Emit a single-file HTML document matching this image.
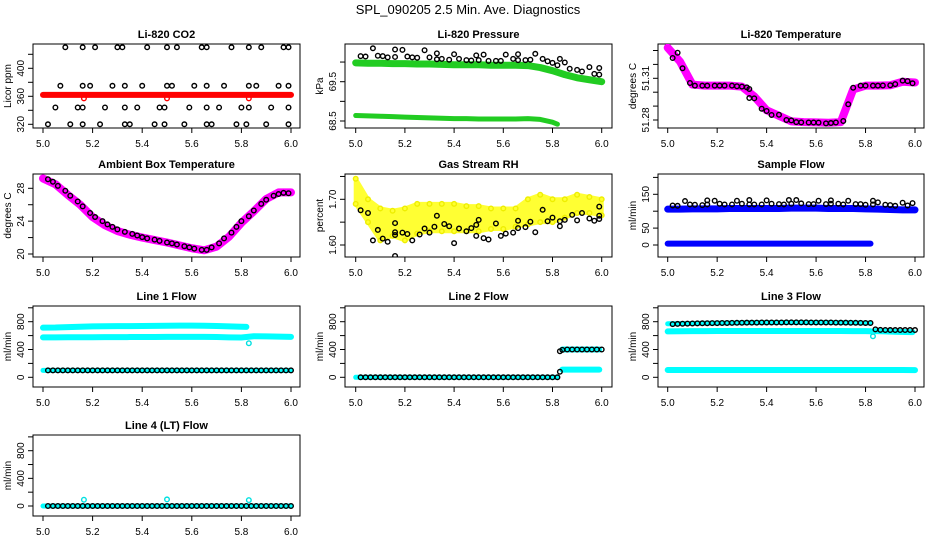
<!DOCTYPE html>
<html><head><meta charset="utf-8">
<style>
html,body{margin:0;padding:0;background:#fff;}
svg{display:block;font-family:"Liberation Sans",sans-serif;}
</style></head>
<body>
<svg id="chart" width="936" height="540" viewBox="0 0 936 540" xmlns="http://www.w3.org/2000/svg">
<text x="468" y="14" text-anchor="middle" font-size="13">SPL_090205  2.5 Min. Ave. Diagnostics</text>
</svg>
<script>
// ---- data ----
const xTicks = [5.0,5.2,5.4,5.6,5.8,6.0];
const xTickLabels = ["5.0","5.2","5.4","5.6","5.8","6.0"];
const t05 = [5.0,5.05,5.1,5.15,5.2,5.25,5.3,5.35,5.4,5.45,5.5,5.55,5.6,5.65,5.7,5.75,5.8,5.85,5.9,5.95,6.0];
const t05to582 = [5.0,5.05,5.1,5.15,5.2,5.25,5.3,5.35,5.4,5.45,5.5,5.55,5.6,5.65,5.7,5.75,5.8,5.82];
const t584to6 = [5.84,5.88,5.92,5.96,5.99];
const flowT = [5.02,5.04,5.06,5.08,5.10,5.12,5.14,5.16,5.18,5.20,5.22,5.24,5.26,5.28,5.30,5.32,5.34,5.36,5.38,5.40,5.42,5.44,5.46,5.48,5.50,5.52,5.54,5.56,5.58,5.60,5.62,5.64,5.66,5.68,5.70,5.72,5.74,5.76,5.78,5.80,5.82,5.84,5.86,5.88,5.90,5.92,5.94,5.96,5.98,6.00];

// CO2
const co2Red = [362,362,362,362,362,362,362,362,362,362,362,362,362,362,362,362,362,362,362,362,362];
const co2RedOutX = [5.165,5.50,5.83];
const co2RedOutY = [357,357,357];
const co2BlkX = [5.09,5.16,5.21,5.30,5.32,5.42,5.50,5.54,5.64,5.66,5.76,5.83,5.88,5.97,5.99,
 5.07,5.16,5.19,5.28,5.33,5.40,5.50,5.52,5.61,5.66,5.73,5.83,5.86,5.95,5.99,
 5.05,5.14,5.16,5.25,5.33,5.38,5.47,5.49,5.59,5.66,5.71,5.80,5.83,5.92,5.99,
 5.02,5.11,5.16,5.23,5.33,5.35,5.45,5.49,5.57,5.66,5.68,5.78,5.82,5.90,5.99];
const co2BlkY = [430,430,430,430,430,430,430,430,430,430,430,430,430,430,430,
 375,375,375,375,375,375,375,375,375,375,375,375,375,375,375,
 344,344,344,344,344,344,344,344,344,344,344,344,344,344,344,
 320,320,320,320,320,320,320,320,320,320,320,320,320,320,320];

// Pressure
const presUpper = [69.98,69.97,69.97,69.96,69.96,69.95,69.95,69.94,69.93,69.93,69.93,69.92,69.92,69.92,69.91,69.86,69.78,69.68,69.60,69.55,69.50];
const presLower = [68.64,68.63,68.62,68.61,68.60,68.59,68.58,68.57,68.56,68.56,68.55,68.55,68.55,68.55,68.56,68.54,68.47,68.42];
const presBlkX = [5.02,5.04,5.07,5.09,5.11,5.13,5.16,5.16,5.19,5.21,5.23,5.25,5.28,5.30,5.33,5.33,5.35,5.38,5.40,5.42,5.45,5.47,5.49,5.50,5.52,5.54,5.57,5.59,5.61,5.64,5.66,5.66,5.69,5.71,5.73,5.76,5.78,5.80,5.82,5.83,5.85,5.87,5.90,5.92,5.95,5.97,5.99,5.99];
const presBlkY = [70.15,70.14,70.35,70.16,70.15,70.12,70.13,70.32,70.31,70.14,70.12,70.11,70.30,70.12,70.22,70.07,70.08,70.06,70.20,70.08,70.05,70.04,70.17,70.05,70.19,70.03,70.03,70.03,70.19,70.08,70.20,70.05,70.05,70.06,70.21,70.08,70.02,69.98,69.92,70.08,69.99,69.83,69.80,69.76,69.87,69.70,69.85,69.68];

// Li-820 temperature
const tempMag = [51.332,51.322,51.3055,51.3047,51.3047,51.3047,51.304,51.297,51.287,51.283,51.279,51.2785,51.2783,51.278,51.2785,51.302,51.3047,51.3047,51.305,51.3075,51.307];
const tempBlkX = [5.02,5.04,5.06,5.09,5.11,5.14,5.16,5.19,5.21,5.23,5.26,5.28,5.30,5.32,5.33,5.33,5.35,5.38,5.40,5.42,5.45,5.48,5.50,5.52,5.54,5.57,5.59,5.61,5.64,5.66,5.68,5.71,5.73,5.75,5.78,5.80,5.83,5.85,5.87,5.90,5.92,5.95,5.97,5.99];
const tempBlkY = [51.3246,51.3284,51.3172,51.3066,51.3047,51.3047,51.3047,51.3047,51.3047,51.3047,51.3047,51.3043,51.304,51.3035,51.3023,51.2958,51.2956,51.2881,51.2865,51.2836,51.2838,51.2800,51.2797,51.2785,51.2783,51.2782,51.2782,51.2781,51.2776,51.2778,51.2782,51.2793,51.2913,51.3032,51.3047,51.3047,51.3047,51.3047,51.3048,51.3050,51.3058,51.3083,51.3080,51.3064];

// Ambient
const ambMag = [29.2,28.5,27.2,26.0,24.5,23.5,22.8,22.35,22.0,21.7,21.4,21.05,20.7,20.45,20.9,22.1,23.8,25.2,26.7,27.5,27.5];
const ambBlkX = [5.02,5.04,5.06,5.09,5.11,5.14,5.16,5.19,5.21,5.24,5.26,5.28,5.30,5.33,5.36,5.38,5.40,5.42,5.45,5.47,5.50,5.52,5.54,5.57,5.59,5.61,5.64,5.66,5.68,5.71,5.73,5.76,5.78,5.80,5.83,5.85,5.88,5.90,5.93,5.95,5.97,5.99];
const ambBlkY = [29.1,28.8,28.3,27.7,27.1,26.4,25.8,25.0,24.5,24.0,23.6,23.3,23.0,22.7,22.45,22.25,22.05,21.9,21.75,21.6,21.4,21.3,21.15,20.95,20.8,20.65,20.5,20.5,20.8,21.3,21.9,22.6,23.3,24.0,24.6,25.3,26.1,26.6,27.1,27.3,27.45,27.4];

// RH
const rhUpper = [1.745,1.70,1.68,1.675,1.68,1.69,1.69,1.69,1.69,1.685,1.685,1.68,1.68,1.68,1.70,1.71,1.70,1.70,1.71,1.705,1.70];
const rhLower = [1.69,1.65,1.61,1.62,1.61,1.625,1.63,1.63,1.63,1.63,1.63,1.635,1.635,1.64,1.645,1.65,1.65,1.66,1.67,1.67,1.665];
const rhBlkX = [5.02,5.05,5.07,5.09,5.11,5.13,5.16,5.16,5.16,5.16,5.19,5.21,5.23,5.26,5.28,5.30,5.32,5.33,5.36,5.38,5.40,5.42,5.45,5.47,5.49,5.49,5.50,5.52,5.54,5.57,5.59,5.61,5.64,5.66,5.66,5.69,5.71,5.73,5.76,5.78,5.80,5.83,5.83,5.85,5.88,5.90,5.92,5.95,5.97,5.99,5.99,5.99];
const rhBlkY = [1.676,1.67,1.61,1.633,1.614,1.607,1.622,1.628,1.648,1.576,1.627,1.624,1.61,1.623,1.636,1.627,1.64,1.664,1.646,1.641,1.604,1.636,1.63,1.637,1.62,1.644,1.655,1.615,1.612,1.647,1.62,1.625,1.627,1.637,1.653,1.639,1.651,1.628,1.677,1.652,1.66,1.641,1.652,1.655,1.666,1.654,1.67,1.658,1.653,1.657,1.684,1.664];

// Sample flow
const sfUpper = [106,106,107,107,107,108,108,108,108,108,109,109,109,108,108,108,107,106,105,104,104];
const sfLower = [4,4,4,4,4,4,4,4,4,4,4,4,4,4,4,4,4,4];
const sfBlkX = [5.02,5.04,5.07,5.09,5.11,5.14,5.16,5.16,5.19,5.21,5.23,5.26,5.28,5.30,5.33,5.33,5.35,5.38,5.40,5.42,5.45,5.47,5.49,5.50,5.52,5.54,5.57,5.59,5.61,5.64,5.66,5.66,5.69,5.71,5.73,5.76,5.78,5.80,5.83,5.83,5.85,5.88,5.90,5.92,5.95,5.97,5.99];
const sfBlkY = [117,116,130,120,119,118,120,132,131,122,120,120,131,122,133,120,120,120,132,122,121,120,133,122,133,123,121,121,131,121,132,122,122,120,131,121,121,119,131,120,126,119,118,116,125,117,124];

// Line 1
const l1Upper = [714,716,722,728,732,735,736,737,738,740,742,743,743,742,738,732,728,725];
const l1Mid = [575,575,576,576,577,578,578,579,580,580,581,582,582,582,579,575,573,590,588,585,582];
const l1Low = [100,100,100,100,100,100,100,100,100,100,100,100,100,100,100,100,100,100,100,100,100];
const l1OutX = [5.83];
const l1OutY = [490];
const l1Blk = [100,100,100,100,100,100,100,100,100,100,100,100,100,100,100,100,100,100,100,100,100,100,100,100,100,100,100,100,100,100,100,100,100,100,100,100,100,100,100,100,100,100,100,100,100,100,100,100,100,100];

// Line 2
const l2CyanLow = [0,0,0,0,0,0,0,0,0,0,0,0,0,0,0,0,0,0];
const l2CyanHigh = [400,400,400,400,400];
const l2CyanMid = [110,110,110,110,110];
const l2Blk = [0,0,0,0,0,0,0,0,0,0,0,0,0,0,0,0,0,0,0,0,0,0,0,0,0,0,0,0,0,0,0,0,0,0,0,0,0,0,0,0,0,395,400,400,400,400,400,400,400,400];
const l2ExtraX = [5.83,5.83];
const l2ExtraY = [80,375];

// Line 3
const l3CyanTop = [770,772,775,778,780,782,784,786,787,788,789,789,789,788,786,784,782,780];
const l3CyanMid = [660,662,664,665,666,666,667,667,667,667,667,667,667,667,666,665,664,663];
const l3CyanLate = [665,660,656,652,650];
const l3CyanLow = [105,105,105,105,105,105,105,105,105,105,105,105,105,105,105,105,105,105,105,105,103];
const l3OutX = [5.83];
const l3OutY = [590];
const l3Blk = [765,768,770,772,774,776,777,778,779,780,781,782,783,784,785,786,786,787,788,788,789,789,789,790,790,790,790,790,789,789,789,788,788,787,786,786,785,784,783,782,781,690,682,681,680,680,680,680,680,680];

// Line 4
const l4Cyan = [0,0,0,0,0,0,0,0,0,0,0,0,0,0,0,0,0,0,0,0,0];
const l4OutX = [5.165,5.50,5.83];
const l4OutY = [90,95,85];
const l4Blk = [0,0,0,0,0,0,0,0,0,0,0,0,0,0,0,0,0,0,0,0,0,0,0,0,0,0,0,0,0,0,0,0,0,0,0,0,0,0,0,0,0,0,0,0,0,0,0,0,0,0];

// ---- drawing ----
const NS = "http://www.w3.org/2000/svg";
const svg = document.getElementById("chart");
function mk(tag, attrs, parent){
  const e = document.createElementNS(NS, tag);
  for (const k in attrs) e.setAttribute(k, attrs[k]);
  (parent||svg).appendChild(e);
  return e;
}
function makePanel(o){
  const g = mk("g", {});
  
  
  const sx = v => o.xp5 + (v - 5) * (o.xp6 - o.xp5);
  const sy = v => o.yA + (v - o.vA) * (o.yB - o.yA) / (o.vB - o.vA);
  const box = mk("rect", {x:o.x0, y:o.y0, width:o.x1-o.x0, height:o.y1-o.y0, fill:"none", stroke:"#000", "stroke-width":1}, g);
  
  
  const t = mk("text", {x:(o.x0+o.x1)/2, y:o.y0-6, "text-anchor":"middle", "font-size":11, "font-weight":"bold"}, g);
  t.textContent = o.title;
  
  
  xTicks.forEach((v,i) => {
    mk("line", {x1:sx(v), x2:sx(v), y1:o.y1, y2:o.y1+5, stroke:"#000"}, g);
    const l = mk("text", {x:sx(v), y:o.y1+19, "text-anchor":"middle", "font-size":10}, g);
    l.textContent = xTickLabels[i];
    
    
  });
  o.yTicks.forEach((v,i) => {
    const y = sy(v);
    mk("line", {x1:o.x0-5, x2:o.x0, y1:y, y2:y, stroke:"#000"}, g);
    if (o.yLabels[i] !== "") {
      const l = mk("text", {x:0, y:0, "text-anchor":"middle", "font-size":10, transform:`translate(${o.x0-9},${y}) rotate(-90)`}, g);
      l.textContent = o.yLabels[i];
      
      
    }
  });
  const yt = mk("text", {x:0, y:0, "text-anchor":"middle", "font-size":10, transform:`translate(${o.x0-22},${(o.y0+o.y1)/2}) rotate(-90)`}, g);
  yt.textContent = o.ylab;
  
  
  const clip = "clip-" + o.name;
  const cp = mk("clipPath", {id:clip}, g);
  mk("rect", {x:o.x0, y:o.y0, width:o.x1-o.x0, height:o.y1-o.y0}, cp);
  const plot = mk("g", {"clip-path":`url(#${clip})`}, g);
  return {g:plot, sx, sy};
}
function band(p, xs, ys, color, w, name){
  const pts = xs.map((x,i)=> p.sx(x)+","+p.sy(ys[i])).join(" ");
  const e = mk("polyline", {points:pts, fill:"none", stroke:color, "stroke-width":w, "stroke-linejoin":"round", "stroke-linecap":"round"}, p.g);
  
  
}
function pts(p, xs, ys, color, name){
  xs.forEach((x,i)=>{
    const c = mk("circle", {cx:p.sx(x), cy:p.sy(ys[i]), r:2.3, fill:"none", stroke:color, "stroke-width":1.4}, p.g);
    
    
  });
}
function area(p, xs, up, lo, color, name){
  const a = xs.map((x,i)=>p.sx(x)+","+p.sy(up[i]));
  const b = xs.slice().reverse().map((x,j)=>p.sx(x)+","+p.sy(lo[xs.length-1-j]));
  const e = mk("polygon", {points:a.concat(b).join(" "), fill:color, stroke:color, "stroke-width":4, "stroke-linejoin":"round"}, p.g);
  
  
}

const C1 = {x0:33, x1:300, xp5:43, xp6:291};
const C2 = {x0:345, x1:612, xp5:355.7, xp6:601.7};
const C3 = {x0:658, x1:924, xp5:667.7, xp6:915};
const R1 = {y0:44, y1:128}, R2 = {y0:174, y1:257}, R3 = {y0:306, y1:387}, R4 = {y0:435, y1:516};
const flowTicks = [0,200,400,600,800,1000], flowLabels = ["0","","400","","800",""];

// CO2
let p = makePanel(Object.assign({name:"co2-panel", title:"Li-820 CO2", ylab:"Licor ppm", vA:320, yA:124.3, vB:400, yB:68.3, yTicks:[320,340,360,380,400,420], yLabels:["320","","360","","400",""]}, C1, R1));
band(p, t05, co2Red, "#ff0000", 6, "co2-red-series");
pts(p, co2RedOutX, co2RedOutY, "#ff0000", "co2-red-point");
pts(p, co2BlkX, co2BlkY, "#000", "co2-black-point");

// Pressure
p = makePanel(Object.assign({name:"pressure-panel", title:"Li-820 Pressure", ylab:"kPa", vA:69.5, yA:81.7, vB:68.5, yB:121, yTicks:[68.5,69.0,69.5,70.0], yLabels:["68.5","","69.5",""]}, C2, R1));
band(p, t05, presUpper, "#22cc22", 7, "pressure-green-upper");
band(p, t05to582, presLower, "#22cc22", 5, "pressure-green-lower");
pts(p, presBlkX, presBlkY, "#000", "pressure-black-point");

// Temperature
p = makePanel(Object.assign({name:"li820-temp-panel", title:"Li-820 Temperature", ylab:"degrees C", vA:51.31, yA:78.3, vB:51.28, yB:120, yTicks:[51.28,51.29,51.30,51.31,51.32,51.33], yLabels:["51.28","","","51.31","",""]}, C3, R1));
band(p, t05, tempMag, "#ff00ff", 8, "temp-magenta-series");
pts(p, tempBlkX, tempBlkY, "#000", "temp-black-point");

// Ambient
p = makePanel(Object.assign({name:"ambient-panel", title:"Ambient Box Temperature", ylab:"degrees C", vA:20, yA:254, vB:28, yB:188.3, yTicks:[20,22,24,26,28], yLabels:["20","","24","","28"]}, C1, R2));
band(p, t05, ambMag, "#ff00ff", 8, "ambient-magenta-series");
pts(p, ambBlkX, ambBlkY, "#000", "ambient-black-point");

// RH
p = makePanel(Object.assign({name:"rh-panel", title:"Gas Stream RH", ylab:"percent", vA:1.60, yA:245, vB:1.70, yB:199.3, yTicks:[1.60,1.65,1.70,1.75], yLabels:["1.60","","1.70",""]}, C2, R2));
area(p, t05, rhUpper, rhLower, "#ffff33", "rh-yellow-cloud");
pts(p, t05, rhUpper, "#eeee00", "rh-yellow-point");
pts(p, t05, rhLower, "#eeee00", "rh-yellow-point");
pts(p, rhBlkX, rhBlkY, "#000", "rh-black-point");

// Sample flow
p = makePanel(Object.assign({name:"sample-flow-panel", title:"Sample Flow", ylab:"ml/min", vA:0, yA:245, vB:150, yB:194.3, yTicks:[0,50,100,150,200], yLabels:["0","50","","150",""]}, C3, R2));
band(p, t05, sfUpper, "#0000ff", 7, "sample-flow-blue-upper");
band(p, t05to582, sfLower, "#0000ff", 6, "sample-flow-blue-lower");
pts(p, sfBlkX, sfBlkY, "#000", "sample-flow-black-point");

// Line 1
p = makePanel(Object.assign({name:"line1-flow-panel", title:"Line 1 Flow", ylab:"ml/min", vA:0, yA:377.3, vB:800, yB:321.7, yTicks:flowTicks, yLabels:flowLabels}, C1, R3));
band(p, t05to582, l1Upper, "#00ffff", 6, "line1-cyan-upper");
band(p, t05, l1Mid, "#00ffff", 6, "line1-cyan-mid");
band(p, t05, l1Low, "#00ffff", 5, "line1-cyan-low");
pts(p, l1OutX, l1OutY, "#00e0e0", "line1-cyan-point");
pts(p, flowT, l1Blk, "#000", "line1-black-point");

// Line 2
p = makePanel(Object.assign({name:"line2-flow-panel", title:"Line 2 Flow", ylab:"ml/min", vA:0, yA:377.3, vB:800, yB:321.7, yTicks:flowTicks, yLabels:flowLabels}, C2, R3));
band(p, t05to582, l2CyanLow, "#00ffff", 5, "line2-cyan-low");
band(p, t584to6, l2CyanHigh, "#00ffff", 6, "line2-cyan-high");
band(p, t584to6, l2CyanMid, "#00ffff", 6, "line2-cyan-mid");
pts(p, flowT, l2Blk, "#000", "line2-black-point");
pts(p, l2ExtraX, l2ExtraY, "#000", "line2-black-point");

// Line 3
p = makePanel(Object.assign({name:"line3-flow-panel", title:"Line 3 Flow", ylab:"ml/min", vA:0, yA:377.3, vB:800, yB:321.7, yTicks:flowTicks, yLabels:flowLabels}, C3, R3));
band(p, t05to582, l3CyanTop, "#00ffff", 5, "line3-cyan-top");
band(p, t05to582, l3CyanMid, "#00ffff", 6, "line3-cyan-mid");
band(p, t584to6, l3CyanLate, "#00ffff", 6, "line3-cyan-late");
band(p, t05, l3CyanLow, "#00ffff", 6, "line3-cyan-low");
pts(p, l3OutX, l3OutY, "#00e0e0", "line3-cyan-point");
pts(p, flowT, l3Blk, "#000", "line3-black-point");

// Line 4
p = makePanel(Object.assign({name:"line4-flow-panel", title:"Line 4 (LT) Flow", ylab:"ml/min", vA:0, yA:506, vB:800, yB:450.7, yTicks:flowTicks, yLabels:flowLabels}, C1, R4));
band(p, t05, l4Cyan, "#00ffff", 5, "line4-cyan-series");
pts(p, l4OutX, l4OutY, "#00e0e0", "line4-cyan-point");
pts(p, flowT, l4Blk, "#000", "line4-black-point");
</script>
</body></html>
